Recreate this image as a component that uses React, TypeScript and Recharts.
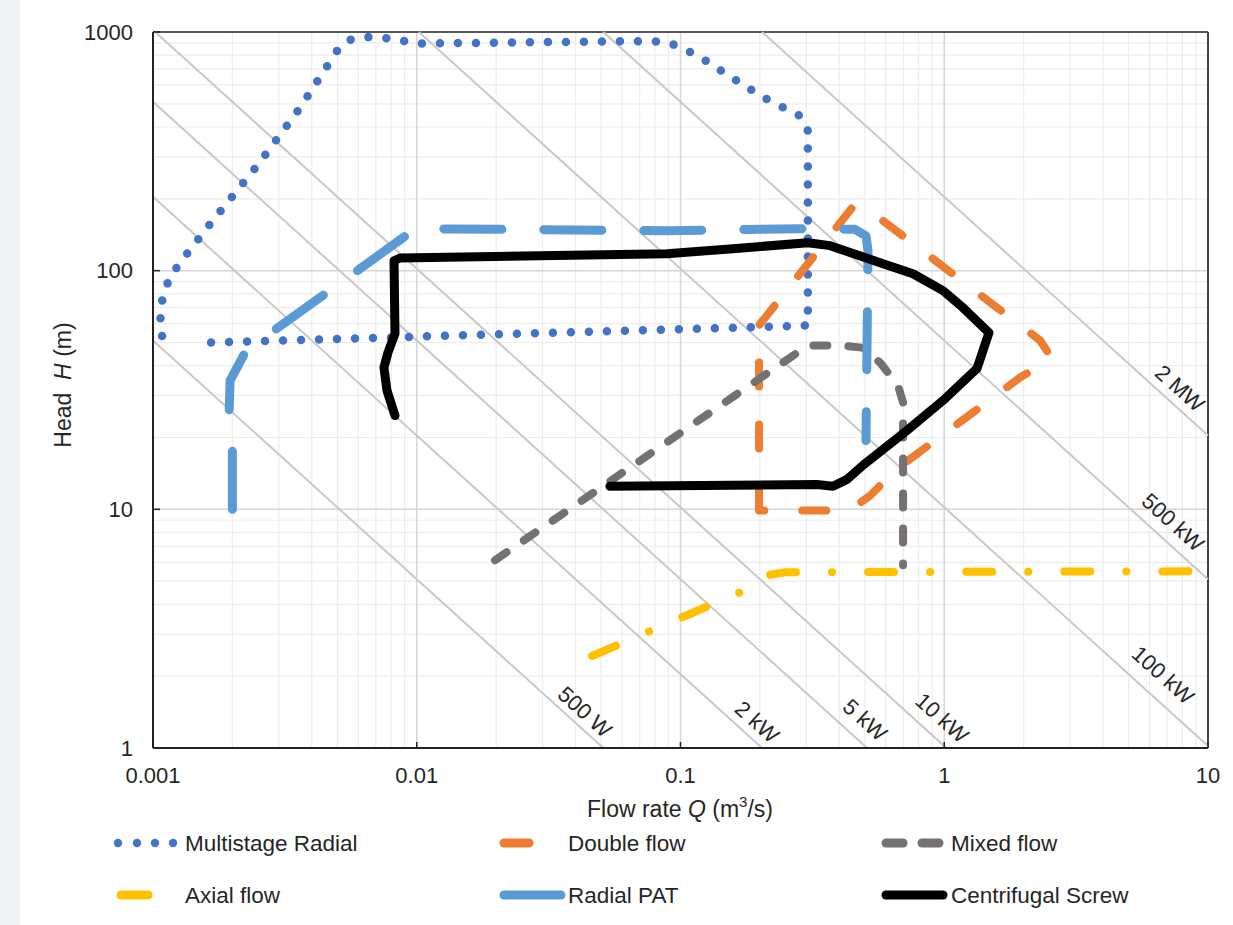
import React from "react";
import { ComposedChart, Line, XAxis, YAxis, ReferenceLine, Scatter } from "recharts";

// pontos (Q em m³/s, H em m)
const multistageRadial = [
  { q: 0.00166, h: 50 },
  { q: 0.304, h: 58.9 },
  { q: 0.304, h: 385 },
  { q: 0.284, h: 445 },
  { q: 0.2075, h: 530 },
  { q: 0.1596, h: 636 },
  { q: 0.1217, h: 771 },
  { q: 0.1067, h: 833 },
  { q: 0.0929, h: 891 },
  { q: 0.0787, h: 917 },
  { q: 0.0103, h: 895 },
  { q: 0.0075, h: 944 },
  { q: 0.00642, h: 953 },
  { q: 0.00558, h: 926 },
  { q: 0.00507, h: 857 },
  { q: 0.0043, h: 648 },
  { q: 0.00361, h: 481 },
  { q: 0.00248, h: 275 },
  { q: 0.00167, h: 160 },
  { q: 0.001266, h: 108 },
  { q: 0.00115, h: 92.6 },
  { q: 0.00106, h: 69.3 },
  { q: 0.00109, h: 48.5 },
];

const doubleFlow = [
  { q: 0.1985, h: 9.9 },
  { q: 0.1985, h: 59 },
  { q: 0.45, h: 185 },
  { q: 0.49, h: 188 },
  { q: 2.31, h: 51 },
  { q: 2.56, h: 42.8 },
  { q: 1.94, h: 35.7 },
  { q: 0.662, h: 14.8 },
  { q: 0.523, h: 11.4 },
  { q: 0.4315, h: 9.81 },
  { q: 0.338, h: 9.9 },
  { q: 0.1985, h: 9.9 },
];

const mixedFlow = [
  { q: 0.0198, h: 6.12 },
  { q: 0.304, h: 48.6 },
  { q: 0.4025, h: 48.6 },
  { q: 0.488, h: 47.6 },
  { q: 0.571, h: 41.2 },
  { q: 0.668, h: 33 },
  { q: 0.698, h: 28 },
  { q: 0.698, h: 5.83 },
];

const axialFlow = [
  { q: 0.0462, h: 2.43 },
  { q: 0.1756, h: 4.58 },
  { q: 0.215, h: 5.3 },
  { q: 0.25, h: 5.45 },
  { q: 10, h: 5.5 },
];

const radialPat = [
  { q: 0.002, h: 10 },
  { q: 0.002, h: 19.4 },
  { q: 0.00194, h: 23.6 },
  { q: 0.00196, h: 34.6 },
  { q: 0.002233, h: 45.4 },
  { q: 0.002545, h: 50.9 },
  { q: 0.00887, h: 137.4 },
  { q: 0.00985, h: 150 },
  { q: 0.0889, h: 147 },
  { q: 0.284, h: 150 },
  { q: 0.4587, h: 149 },
  { q: 0.505, h: 140 },
  { q: 0.514, h: 121 },
  { q: 0.505, h: 19.4 },
];

const centrifugalScrew = [
  { q: 0.00827, h: 24.7 },
  { q: 0.00771, h: 31.5 },
  { q: 0.00751, h: 39.3 },
  { q: 0.00778, h: 45.4 },
  { q: 0.00827, h: 54.5 },
  { q: 0.0082, h: 110 },
  { q: 0.00864, h: 113 },
  { q: 0.0889, h: 117.8 },
  { q: 0.158, h: 123.6 },
  { q: 0.304, h: 131 },
  { q: 0.369, h: 127.3 },
  { q: 0.571, h: 108 },
  { q: 0.761, h: 97.1 },
  { q: 0.989, h: 82.5 },
  { q: 1.178, h: 70 },
  { q: 1.478, h: 55 },
  { q: 1.331, h: 38.9 },
  { q: 0.99, h: 28.6 },
  { q: 0.722, h: 21.4 },
  { q: 0.492, h: 15.3 },
  { q: 0.428, h: 13.35 },
  { q: 0.379, h: 12.5 },
  { q: 0.329, h: 12.7 },
  { q: 0.054, h: 12.5 },
];

// linhas de potência constante (W)
const powers = [500, 2000, 5000, 10000, 100000, 500000, 2000000];
const rhoG = 9810;

const powerLabels = [
  { q: 0.0434, h: 1.415, text: "500 W" },
  { q: 0.195, h: 1.285, text: "2 kW" },
  { q: 0.5007, h: 1.31, text: "5 kW" },
  { q: 0.9806, h: 1.335, text: "10 kW" },
  { q: 6.75, h: 2.02, text: "100 kW" },
  { q: 7.37, h: 8.82, text: "500 kW" },
  { q: 7.83, h: 32.1, text: "2 MW" },
];

const qTicks = [0.001, 0.01, 0.1, 1, 10];
const hTicks = [1, 10, 100, 1000];
const minorSteps = [2, 3, 4, 5, 6, 7, 8, 9];
const minorQ = [0.001, 0.01, 0.1, 1].flatMap((d) => minorSteps.map((s) => +(d * s).toPrecision(3)));
const minorH = [1, 10, 100].flatMap((d) => minorSteps.map((s) => +(d * s).toPrecision(3)));

const FONT = "'Liberation Sans', Arial, sans-serif";
const TXT = "#262626";

const XTick = (props: any) => {
  const { x, y, payload } = props;
  return (
    <g>
      <line x1={x} x2={x} y1={y} y2={y - 6} stroke="#222" strokeWidth={1.5} />
      <text x={x} y={y + 27} textAnchor="middle" dominantBaseline="central" fontSize={22} fontFamily={FONT} fill={TXT}>
        {String(payload.value)}
      </text>
    </g>
  );
};

const YTick = (props: any) => {
  const { x, y, payload } = props;
  return (
    <g>
      <line x1={x} x2={x + 7} y1={y} y2={y} stroke="#222" strokeWidth={1.5} />
      <text x={x - 20} y={y} textAnchor="end" dominantBaseline="central" fontSize={22} fontFamily={FONT} fill={TXT}>
        {String(payload.value)}
      </text>
    </g>
  );
};

const PowerLabel = (props: any) => {
  const { cx, cy, payload } = props;
  return (
    <text
      x={cx}
      y={cy}
      transform={`rotate(42 ${cx} ${cy})`}
      textAnchor="middle"
      dominantBaseline="central"
      fontSize={22}
      fontFamily={FONT}
      fill={TXT}
    >
      {payload.text}
    </text>
  );
};

function powerSegment(p: number) {
  const k = p / rhoG;
  const q1 = Math.max(0.001, k / 1000);
  const q2 = Math.min(10, k / 1);
  return [
    { x: q1, y: k / q1 },
    { x: q2, y: k / q2 },
  ];
}

export default function App() {
  return (
    <div style={{ position: "absolute", left: 0, top: 0, width: 1233, height: 925, background: "#fff" }}>
      <div style={{ position: "absolute", left: 0, top: 0, width: 20, height: 925, background: "#eef0f3" }} />
      <ComposedChart width={1233} height={925} margin={{ top: 32, right: 25, bottom: 137, left: 83 }}>
        <XAxis
          dataKey="q"
          type="number"
          scale="log"
          domain={[0.001, 10]}
          allowDataOverflow
          ticks={qTicks}
          height={40}
          tickSize={0}
          tickMargin={0}
          tickLine={false}
          axisLine={{ stroke: "#222", strokeWidth: 2 }}
          tick={<XTick />}
          interval={0}
        />
        <YAxis
          dataKey="h"
          type="number"
          scale="log"
          domain={[1, 1000]}
          allowDataOverflow
          ticks={hTicks}
          width={70}
          tickSize={0}
          tickMargin={0}
          tickLine={false}
          axisLine={{ stroke: "#222", strokeWidth: 2 }}
          tick={<YTick />}
          interval={0}
        />

        {minorQ.map((v) => (
          <ReferenceLine key={"mq" + v} x={v} stroke="#ececec" strokeWidth={1.2} ifOverflow="visible" />
        ))}
        {minorH.map((v) => (
          <ReferenceLine key={"mh" + v} y={v} stroke="#ececec" strokeWidth={1.2} ifOverflow="visible" />
        ))}
        {[0.01, 0.1, 1].map((v) => (
          <ReferenceLine key={"Mq" + v} x={v} stroke="#d6d6d6" strokeWidth={1.5} ifOverflow="visible" />
        ))}
        {[10, 100].map((v) => (
          <ReferenceLine key={"Mh" + v} y={v} stroke="#d6d6d6" strokeWidth={1.5} ifOverflow="visible" />
        ))}
        <ReferenceLine y={1000} stroke="#222" strokeWidth={1.5} ifOverflow="visible" />
        <ReferenceLine x={10} stroke="#444" strokeWidth={2} ifOverflow="visible" />

        {powers.map((p) => (
          <ReferenceLine key={"p" + p} segment={powerSegment(p)} stroke="#c8c8c8" strokeWidth={2} ifOverflow="visible" />
        ))}

        <Line data={multistageRadial} dataKey="h" stroke="#4472C4" strokeWidth={8.5} strokeDasharray="0 18" strokeLinecap="round" dot={false} activeDot={false} isAnimationActive={false} />
        <Line data={doubleFlow} dataKey="h" stroke="#ED7D31" strokeWidth={8} strokeDasharray="24 38" strokeLinecap="round" strokeLinejoin="round" dot={false} activeDot={false} isAnimationActive={false} />
        <Line data={mixedFlow} dataKey="h" stroke="#767171" strokeWidth={8} strokeDasharray="14 21" strokeLinecap="round" strokeLinejoin="round" dot={false} activeDot={false} isAnimationActive={false} />
        <Line data={axialFlow} dataKey="h" stroke="#FFC000" strokeWidth={8} strokeDasharray="26 36 0.1 36" strokeLinecap="round" strokeLinejoin="round" dot={false} activeDot={false} isAnimationActive={false} />
        <Line data={radialPat} dataKey="h" stroke="#5B9BD5" strokeWidth={9} strokeDasharray="58 42" strokeLinecap="round" strokeLinejoin="round" dot={false} activeDot={false} isAnimationActive={false} />
        <Line data={centrifugalScrew} dataKey="h" stroke="#000" strokeWidth={9} strokeLinecap="round" strokeLinejoin="round" dot={false} activeDot={false} isAnimationActive={false} />

        <Scatter data={powerLabels} dataKey="h" shape={<PowerLabel />} isAnimationActive={false} />
      </ComposedChart>

      <svg width={1233} height={925} style={{ position: "absolute", left: 0, top: 0, pointerEvents: "none" }}>
        <text x={680} y={809} textAnchor="middle" dominantBaseline="central" fontSize={23} fontFamily={FONT} fill={TXT}>
          Flow rate <tspan fontStyle="italic">Q</tspan> (m<tspan fontSize={15} dy={-8}>3</tspan>
          <tspan dy={8}>/s)</tspan>
        </text>
        <text
          x={63}
          y={385}
          transform="rotate(-90 63 385)"
          textAnchor="middle"
          dominantBaseline="central"
          fontSize={23}
          fontFamily={FONT}
          fill={TXT}
          xmlSpace="preserve"
        >
          Head  <tspan fontStyle="italic">H</tspan> (m)
        </text>

        {/* legenda */}
        {[118, 137, 155, 173].map((cx) => (
          <circle key={cx} cx={cx} cy={843} r={4.2} fill="#4472C4" />
        ))}
        <line x1={121} x2={148} y1={895} y2={895} stroke="#FFC000" strokeWidth={9} strokeLinecap="round" />
        <line x1={504} x2={529} y1={843} y2={843} stroke="#ED7D31" strokeWidth={9} strokeLinecap="round" />
        <line x1={504} x2={561} y1={895} y2={895} stroke="#5B9BD5" strokeWidth={9} strokeLinecap="round" />
        <line x1={886} x2={903} y1={843} y2={843} stroke="#767171" strokeWidth={9} strokeLinecap="round" />
        <line x1={922} x2={939} y1={843} y2={843} stroke="#767171" strokeWidth={9} strokeLinecap="round" />
        <line x1={886} x2={943} y1={895} y2={895} stroke="#000" strokeWidth={9} strokeLinecap="round" />
        <g fontSize={22.5} fontFamily={FONT} fill={TXT} dominantBaseline="central">
          <text x={185} y={843}>Multistage Radial</text>
          <text x={185} y={895}>Axial flow</text>
          <text x={568} y={843}>Double flow</text>
          <text x={568} y={895}>Radial PAT</text>
          <text x={951} y={843}>Mixed flow</text>
          <text x={951} y={895}>Centrifugal Screw</text>
        </g>
      </svg>
    </div>
  );
}
